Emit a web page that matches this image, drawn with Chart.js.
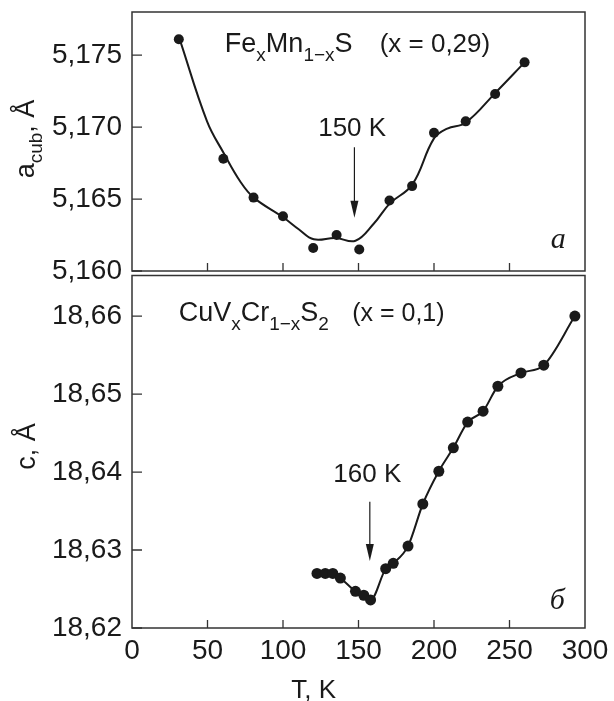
<!DOCTYPE html>
<html>
<head>
<meta charset="utf-8">
<script src="https://cdn.jsdelivr.net/npm/chart.js"></script>
<style>
  body { margin: 0; background: #fff; }
  canvas { position: absolute; left: 0; }
</style>
</head>
<body>
<canvas id="topChart" width="614" height="292" style="top:0"></canvas>
<canvas id="botChart" width="614" height="431" style="top:270px"></canvas>
<script>
/* DATA: panel a, FexMn1-xS */
const topT = [31, 60.5, 80.5, 100, 120, 135.5, 150.5, 170.5, 185.5, 200, 221, 240.5, 260];
const topA = [5.1761, 5.1678, 5.1651, 5.1638, 5.1616, 5.1625, 5.1615, 5.1649, 5.1659, 5.1696, 5.1704, 5.1723, 5.1745];

/* smooth guide curve */
const curveT = [31.6, 49.7, 60.7, 71.8, 80.6, 100.5, 110.4, 120.4, 134.8, 148, 160.2, 170.8, 185.6, 199.9, 208.8, 220.9, 240.8, 260];
const curveA = [5.1761, 5.1704, 5.1682, 5.1662, 5.1651, 5.1637, 5.1629, 5.1622, 5.1623, 5.1621, 5.1633, 5.1647, 5.1660, 5.1692, 5.1699, 5.1703, 5.1724, 5.1745];

/* DATA: panel b, CuVxCr1-xS2 */
const botT = [122.5, 128, 133, 138, 148, 153.5, 158, 168, 173, 182.8, 192.6, 203.2, 212.8, 222.3, 232.5, 242.3, 257.6, 272.7, 293.3];
const botC = [18.6270, 18.6270, 18.6270, 18.6264, 18.6247, 18.6242, 18.6236, 18.6276, 18.6283, 18.6305, 18.6359, 18.6401, 18.6431, 18.6464, 18.6478, 18.6510, 18.6527, 18.6537, 18.6600];

/* TICKS */
const xTicks = [0, 50, 100, 150, 200, 250, 300];
const topYTicks = [5.160, 5.165, 5.170, 5.175];
const botYTicks = [18.62, 18.63, 18.64, 18.65, 18.66];

const FONT = '"Liberation Sans", Arial, sans-serif';
const INK = '#1a1a1a';
const AXIS = '#333';
Chart.defaults.font.family = FONT;
Chart.defaults.color = INK;

function comma(v, d) { return v.toFixed(d).replace('.', ','); }

/* text with subscripts: runs = [[text, isSub], ...] */
function richWidth(ctx, runs, size, sub) {
    let w = 0;
    runs.forEach(([t, s]) => {
        ctx.font = (s ? sub : size) + 'px ' + FONT;
        w += ctx.measureText(t).width;
    });
    return w;
}
function rich(ctx, runs, x, y, size, sub, drop) {
    ctx.textAlign = 'left';
    ctx.textBaseline = 'alphabetic';
    runs.forEach(([t, s]) => {
        ctx.font = (s ? sub : size) + 'px ' + FONT;
        ctx.fillText(t, x, y + (s ? drop : 0));
        x += ctx.measureText(t).width;
    });
}

function frame(chart) {
    const { ctx, chartArea: a } = chart;
    ctx.strokeStyle = AXIS;
    ctx.lineWidth = 1.5;
    ctx.strokeRect(a.left, a.top, a.right - a.left, a.bottom - a.top);
}

function innerTicks(chart, yTicks) {
    const { ctx, chartArea: a, scales } = chart;
    ctx.strokeStyle = AXIS;
    ctx.lineWidth = 1.3;
    ctx.beginPath();
    yTicks.forEach(v => {
        const py = scales.y.getPixelForValue(v);
        ctx.moveTo(a.left, py);
        ctx.lineTo(a.left + 10, py);
    });
    xTicks.slice(1, -1).forEach(v => {
        const px = scales.x.getPixelForValue(v);
        ctx.moveTo(px, a.bottom);
        ctx.lineTo(px, a.bottom - 8);
    });
    ctx.stroke();
}

function arrow(chart, t, from, to) {
    const { ctx, scales } = chart;
    const x = scales.x.getPixelForValue(t);
    const y1 = scales.y.getPixelForValue(from);
    const y2 = scales.y.getPixelForValue(to);
    ctx.strokeStyle = INK;
    ctx.fillStyle = INK;
    ctx.lineWidth = 1.2;
    ctx.beginPath();
    ctx.moveTo(x, y1);
    ctx.lineTo(x, y2 - 12);
    ctx.stroke();
    ctx.beginPath();
    ctx.moveTo(x - 4, y2 - 17);
    ctx.lineTo(x + 4, y2 - 17);
    ctx.lineTo(x, y2);
    ctx.closePath();
    ctx.fill();
}

function label(chart, text, t, v, size) {
    const { ctx, scales } = chart;
    ctx.font = size + 'px ' + FONT;
    ctx.fillStyle = INK;
    ctx.textAlign = 'center';
    ctx.textBaseline = 'alphabetic';
    ctx.fillText(text, scales.x.getPixelForValue(t), scales.y.getPixelForValue(v));
}

function italicMark(chart, text, t, v, size) {
    const { ctx, scales } = chart;
    ctx.font = 'italic ' + size + 'px "Liberation Serif", "Times New Roman", serif';
    ctx.fillStyle = INK;
    ctx.textAlign = 'left';
    ctx.textBaseline = 'alphabetic';
    ctx.fillText(text, scales.x.getPixelForValue(t), scales.y.getPixelForValue(v));
}

function yTitle(ctx, runs, x, cy) {
    ctx.save();
    ctx.fillStyle = INK;
    const w = richWidth(ctx, runs, 27, 19);
    ctx.translate(x, cy);
    ctx.rotate(-Math.PI / 2);
    rich(ctx, runs, -w / 2, 0, 27, 19, 8);
    ctx.restore();
}

const topDecor = {
    id: 'topDecor',
    afterDraw(chart) {
        const { ctx, scales } = chart;
        ctx.save();
        frame(chart);
        innerTicks(chart, topYTicks);
        ctx.fillStyle = INK;
        rich(ctx, [['Fe', 0], ['x', 1], ['Mn', 0], ['1\u2212x', 1], ['S', 0]],
            scales.x.getPixelForValue(61.5), scales.y.getPixelForValue(5.1752), 27, 19, 9);
        rich(ctx, [['(x = 0,29)', 0]],
            scales.x.getPixelForValue(164), scales.y.getPixelForValue(5.1752), 26, 19, 9);
        label(chart, '150 K', 145.8, 5.1694, 26);
        arrow(chart, 147.3, 5.1686, 5.1637);
        italicMark(chart, 'a', 277.3, 5.1616, 30);
        yTitle(ctx, [['a', 0], ['cub', 1], [', \u00c5', 0]], 34, 139);
        ctx.restore();
    }
};

const botDecor = {
    id: 'botDecor',
    afterDraw(chart) {
        const { ctx, scales } = chart;
        ctx.save();
        frame(chart);
        innerTicks(chart, botYTicks);
        ctx.fillStyle = INK;
        rich(ctx, [['CuV', 0], ['x', 1], ['Cr', 0], ['1\u2212x', 1], ['S', 0], ['2', 1]],
            scales.x.getPixelForValue(30.9), scales.y.getPixelForValue(18.6594), 27, 19, 9);
        rich(ctx, [['(x = 0,1)', 0]],
            scales.x.getPixelForValue(145.8), scales.y.getPixelForValue(18.6594), 25, 19, 9);
        label(chart, '160 K', 155.8, 18.6387, 26);
        arrow(chart, 157.5, 18.6362, 18.6286);
        italicMark(chart, '\u0431', 276.6, 18.6224, 30);
        yTitle(ctx, [['c, \u00c5', 0]], 35, 176.5);
        ctx.font = '26px ' + FONT;
        ctx.textAlign = 'center';
        ctx.fillText('T, K', 313.7, 428);
        ctx.restore();
    }
};

const noLegend = { legend: { display: false }, tooltip: { enabled: false } };

function yAxis(min, max, ticks, digits) {
    return {
        min: min, max: max,
        afterBuildTicks: s => { s.ticks = ticks.map(v => ({ value: v })); },
        afterFit: s => { s.width = 132; s.paddingTop = 0; s.paddingBottom = 0; },
        grid: { display: false, drawTicks: false },
        border: { display: false },
        ticks: { padding: 10, font: { size: 28 }, color: INK, callback: v => comma(v, digits) }
    };
}

new Chart(document.getElementById('topChart'), {
    type: 'scatter',
    data: {
        datasets: [{
            data: curveT.map((t, i) => ({ x: t, y: curveA[i] })),
            showLine: true,
            pointRadius: 0,
            borderColor: INK,
            borderWidth: 2,
            tension: 0.4
        }, {
            data: topT.map((t, i) => ({ x: t, y: topA[i] })),
            showLine: false,
            pointRadius: 5,
            backgroundColor: INK,
            borderWidth: 0
        }]
    },
    options: {
        responsive: false,
        animation: false,
        devicePixelRatio: 1,
        layout: { padding: { top: 12, right: 29, bottom: 21, left: 0 } },
        plugins: noLegend,
        scales: {
            x: { type: 'linear', min: 0, max: 300, display: false },
            y: yAxis(5.160, 5.178, topYTicks, 3)
        }
    },
    plugins: [topDecor]
});

new Chart(document.getElementById('botChart'), {
    type: 'scatter',
    data: {
        datasets: [{
            data: botT.map((t, i) => ({ x: t, y: botC[i] })),
            showLine: true,
            borderColor: INK,
            borderWidth: 2,
            cubicInterpolationMode: 'monotone',
            pointRadius: 5.5,
            pointBackgroundColor: INK,
            pointBorderWidth: 0
        }]
    },
    options: {
        responsive: false,
        animation: false,
        devicePixelRatio: 1,
        layout: { padding: { top: 0, right: 29, bottom: 0, left: 0 } },
        plugins: noLegend,
        scales: {
            x: {
                type: 'linear', min: 0, max: 300,
                afterBuildTicks: s => { s.ticks = xTicks.map(v => ({ value: v })); },
                afterFit: s => { s.height = 73; s.paddingLeft = 0; s.paddingRight = 0; },
                grid: { display: false, drawTicks: false },
                border: { display: false },
                ticks: { padding: 6, font: { size: 28 }, color: INK, maxRotation: 0, autoSkip: false }
            },
            y: yAxis(18.62, 18.6652, botYTicks, 2)
        }
    },
    plugins: [botDecor]
});
</script>
</body>
</html>
